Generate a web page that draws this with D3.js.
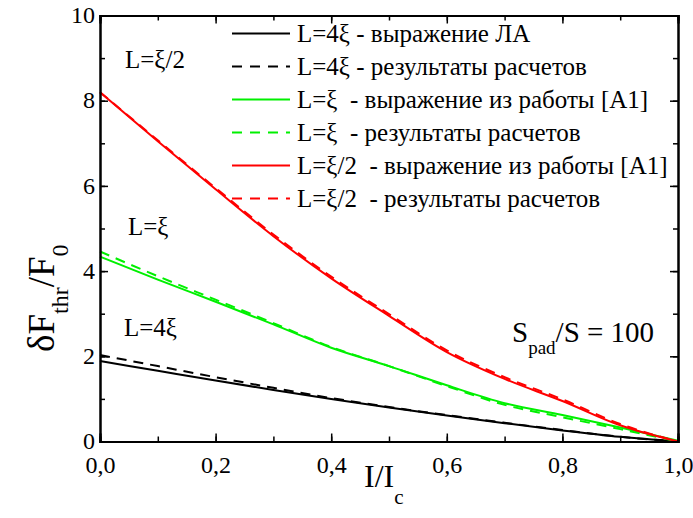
<!DOCTYPE html>
<html>
<head>
<meta charset="utf-8">
<script src="https://cdn.jsdelivr.net/npm/d3@7"></script>
<style>
  html, body { margin: 0; padding: 0; background: #fff; }
  svg text { font-family: "Liberation Serif", "DejaVu Serif", serif; }
</style>
</head>
<body>
<svg id="chart" width="693" height="518"></svg>
<script>
// ---- data ----
const xValues = [0, 0.1, 0.2, 0.3, 0.4, 0.5, 0.6, 0.7, 0.8, 0.9, 1.0];
const black4xiFormula = [1.89, 1.66, 1.43, 1.21, 1.00, 0.80, 0.61, 0.43, 0.26, 0.11, 0.0];
const black4xiCalc    = [2.03, 1.77, 1.51, 1.26, 1.02, 0.81, 0.62, 0.44, 0.27, 0.11, 0.0];
const greenXiFormula  = [4.34, 3.80, 3.28, 2.75, 2.20, 1.77, 1.32, 0.90, 0.62, 0.33, 0.02];
const greenXiCalc     = [4.46, 3.88, 3.33, 2.78, 2.22, 1.77, 1.30, 0.86, 0.57, 0.29, 0.0];
const redHalfFormula  = [8.20, 7.05, 5.92, 4.82, 3.83, 2.95, 2.10, 1.47, 0.95, 0.38, 0.0];
const redHalfCalc     = [8.20, 7.07, 5.95, 4.86, 3.87, 2.99, 2.14, 1.51, 0.99, 0.41, 0.0];

const xTickValues = [0, 0.2, 0.4, 0.6, 0.8, 1.0];
const xTickLabels = ["0,0", "0,2", "0,4", "0,6", "0,8", "1,0"];
const yTickValues = [0, 2, 4, 6, 8, 10];
const yTickLabels = ["0", "2", "4", "6", "8", "10"];

const seriesNames = [
  "L=4ξ - выражение ЛА",
  "L=4ξ - результаты расчетов",
  "L=ξ  - выражение из работы [A1]",
  "L=ξ  - результаты расчетов",
  "L=ξ/2  - выражение из работы [A1]",
  "L=ξ/2  - результаты расчетов"
];
const seriesValues = [black4xiFormula, black4xiCalc, greenXiFormula, greenXiCalc, redHalfFormula, redHalfCalc];
const seriesColors = ["#000000", "#000000", "#00f000", "#00f000", "#ff0000", "#ff0000"];
const seriesDashed = [false, true, false, true, false, true];

// ---- layout ----
const FONT = "Liberation Serif, DejaVu Serif, serif";
const svg = d3.select("#chart");
const padL = 100, padR = 678, padT = 15.5, padB = 441.5;
const x = d3.scaleLinear().domain([0, 1]).range([padL, padR]);
const y = d3.scaleLinear().domain([0, 10]).range([padB, padT]);

const line = d3.line().x(d => x(d[0])).y(d => y(d[1])).curve(d3.curveMonotoneX);

// curves
seriesValues.forEach((vals, i) => {
  svg.append("path")
    .datum(xValues.map((xv, j) => [xv, vals[j]]))
    .attr("d", line)
    .attr("fill", "none")
    .attr("stroke", seriesColors[i])
    .attr("stroke-width", 2)
    .attr("stroke-dasharray", seriesDashed[i] ? "10,7" : null);
});

// axes (ticks inside, all four sides)
const minorX = d3.range(0, 1.0001, 0.1);
const minorY = d3.range(0, 10.001, 1);

function axisStyle(g) {
  g.attr("font-family", FONT);
  g.select(".domain").attr("stroke-width", 2).attr("stroke", "#000");
  g.selectAll(".tick line").attr("stroke-width", 1.5).attr("stroke", "#000");
  g.selectAll(".tick text").attr("font-size", 24).attr("fill", "#000")
    .attr("font-family", FONT);
}

// bottom
svg.append("g").attr("transform", `translate(0,${padB})`)
  .call(d3.axisBottom(x).tickValues(minorX).tickSize(-5).tickFormat(""))
  .call(axisStyle);
svg.append("g").attr("transform", `translate(0,${padB})`)
  .call(d3.axisBottom(x).tickValues(xTickValues).tickSize(-8)
    .tickFormat((d, i) => xTickLabels[i]))
  .call(axisStyle)
  .call(g => g.selectAll(".tick text").attr("dy", "0.71em").attr("y", 14));
// top
svg.append("g").attr("transform", `translate(0,${padT})`)
  .call(d3.axisTop(x).tickValues(minorX).tickSize(-5).tickFormat(""))
  .call(axisStyle);
svg.append("g").attr("transform", `translate(0,${padT})`)
  .call(d3.axisTop(x).tickValues(xTickValues).tickSize(-8).tickFormat(""))
  .call(axisStyle);
// left
svg.append("g").attr("transform", `translate(${padL},0)`)
  .call(d3.axisLeft(y).tickValues(minorY).tickSize(-5).tickFormat(""))
  .call(axisStyle);
svg.append("g").attr("transform", `translate(${padL},0)`)
  .call(d3.axisLeft(y).tickValues(yTickValues).tickSize(-8)
    .tickFormat((d, i) => yTickLabels[i]))
  .call(axisStyle)
  .call(g => g.selectAll(".tick text").attr("x", -5).attr("dy", "0.30em"));
// right
svg.append("g").attr("transform", `translate(${padR},0)`)
  .call(d3.axisRight(y).tickValues(minorY).tickSize(-5).tickFormat(""))
  .call(axisStyle);
svg.append("g").attr("transform", `translate(${padR},0)`)
  .call(d3.axisRight(y).tickValues(yTickValues).tickSize(-8).tickFormat(""))
  .call(axisStyle);

// legend
const legX = 232, legY0 = 33.5, legDY = 33;
seriesNames.forEach((name, i) => {
  const yy = legY0 + i * legDY;
  svg.append("line")
    .attr("x1", legX).attr("x2", legX + 58).attr("y1", yy).attr("y2", yy)
    .attr("stroke", seriesColors[i]).attr("stroke-width", 2)
    .attr("stroke-dasharray", seriesDashed[i] ? "10,8" : null);
  svg.append("text")
    .attr("x", legX + 65).attr("y", yy + 8)
    .attr("font-family", FONT)
    .attr("font-size", 25)
    .attr("xml:space", "preserve")
    .style("white-space", "pre")
    .text(name);
});

// curve labels
const curveLabels = [["L=ξ/2", 125, 68], ["L=ξ", 128, 235], ["L=4ξ", 124, 336]];
curveLabels.forEach(([t, lx, ly]) => {
  svg.append("text").attr("x", lx).attr("y", ly)
    .attr("font-family", FONT).attr("font-size", 25).text(t);
});

// S_pad/S = 100
const sp = svg.append("text").attr("x", 512).attr("y", 342)
  .attr("font-family", FONT).attr("font-size", 29);
sp.append("tspan").text("S");
sp.append("tspan").attr("dy", 12).attr("font-size", 19).text("pad");
sp.append("tspan").attr("dy", -12).text("/S = 100");

// x title
const xt = svg.append("text").attr("x", 364).attr("y", 487)
  .attr("font-family", FONT).attr("font-size", 32);
xt.append("tspan").text("I/I");
xt.append("tspan").attr("dy", 17).attr("font-size", 21).text("c");

// y title
const yt = svg.append("text")
  .attr("transform", "translate(54,352) rotate(-90)")
  .attr("font-family", FONT)
  .attr("font-size", 37);
yt.append("tspan").text("δF");
yt.append("tspan").attr("dy", 14).attr("font-size", 24).text("thr");
yt.append("tspan").attr("dy", -14).text("/F");
yt.append("tspan").attr("dy", 14).attr("font-size", 24).text("0");
</script>
</body>
</html>
